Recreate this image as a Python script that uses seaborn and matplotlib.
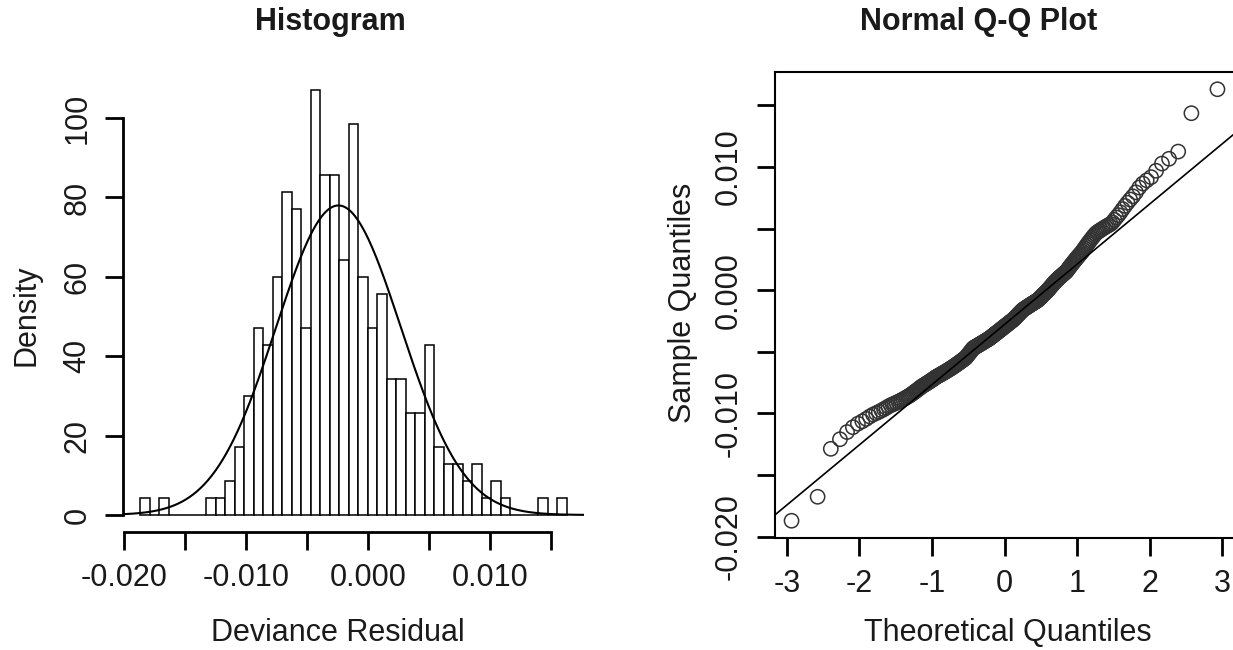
import numpy as np
import pandas as pd
import seaborn as sns
import matplotlib
matplotlib.use("Agg")
import matplotlib.pyplot as plt
from statistics import NormalDist

# ---------------- data ----------------
resid_min = -0.0187          # smallest deviance residual (first break)
resid_max = 0.0163           # largest deviance residual (last break)
# observations per histogram bin (45 equal bins between min and max)
bin_counts = [1, 0, 1, 0, 0, 0, 0, 1, 1, 2, 4, 7, 11, 10, 14, 19, 18, 11, 25, 20,
              20, 15, 23, 14, 11, 13, 8, 8, 6, 6, 10, 4, 3, 3, 2, 3, 1, 2, 1, 0,
              0, 0, 1, 0, 1]
hist_xticks = [-0.020, -0.015, -0.010, -0.005, 0.000, 0.005, 0.010, 0.015]
hist_xticklabels = ["-0.020", "", "-0.010", "", "0.000", "", "0.010", ""]
hist_yticks = [0, 20, 40, 60, 80, 100]
hist_yticklabels = ["0", "20", "40", "60", "80", "100"]
qq_xticks = [-3, -2, -1, 0, 1, 2, 3]
qq_xticklabels = ["-3", "-2", "-1", "0", "1", "2", "3"]
qq_yticks = [-0.020, -0.015, -0.010, -0.005, 0.000, 0.005, 0.010, 0.015]
qq_yticklabels = ["-0.020", "", "-0.010", "", "0.000", "", "0.010", ""]

# ---------------- style ----------------
sns.set_theme(style="white")
plt.rcParams["font.family"] = ["Liberation Sans", "DejaVu Sans"]
TXT = "#1a1a1a"
FS = 22

# residual sample rebuilt from the bin counts
n_bins = len(bin_counts)
edges = np.linspace(resid_min, resid_max, n_bins + 1)
vals = []
for a, b, c in zip(edges[:-1], edges[1:], bin_counts):
    if c:
        vals.extend(a + (np.arange(c) + 0.5) / c * (b - a))
sample = np.sort(np.array(vals))
sample[0] = resid_min
sample[-1] = resid_max
n = len(sample)
df = pd.DataFrame({"resid": sample})

W, H = 1233, 650
fig = plt.figure(figsize=(W / 100, H / 100), dpi=100)
fig.patch.set_facecolor("white")


def box(l, t, r, b):
    return [l / W, 1 - b / H, (r - l) / W, (b - t) / H]


# ---------------- histogram ----------------
ax1 = fig.add_axes(box(123, 72.7, 584, 532))
sns.histplot(data=df, x="resid", bins=edges, stat="density", color="white",
             edgecolor="black", linewidth=1.1, alpha=1, ax=ax1)
span = resid_max - resid_min
xl = (resid_min - 0.04 * span, resid_max + 0.04 * span)
dmax = max(bin_counts) / (n * (edges[1] - edges[0]))
ax1.set_xlim(*xl)
ax1.set_ylim(-0.04 * dmax, 1.04 * dmax)

mu = sample.mean()
sd = sample.std(ddof=1)
xs = np.linspace(xl[0], xl[1], 500)
ys = np.array([NormalDist(mu, sd).pdf(x) for x in xs])
sns.lineplot(x=xs, y=ys, color="black", linewidth=1.5, ax=ax1)

for s in ["top", "right"]:
    ax1.spines[s].set_visible(False)
for s in ["left", "bottom"]:
    ax1.spines[s].set_linewidth(2.0)
    ax1.spines[s].set_color("black")
ax1.spines["left"].set_bounds(0, 100)
ax1.spines["bottom"].set_bounds(-0.020, 0.015)
ax1.set_xticks(hist_xticks)
ax1.set_xticklabels(hist_xticklabels)
ax1.set_yticks(hist_yticks)
ax1.set_yticklabels(hist_yticklabels, rotation=90, va="center")
ax1.tick_params(bottom=True, left=True, direction="out", length=13, width=2,
                labelsize=FS, pad=9, colors="black", labelcolor=TXT)
ax1.set_xlabel("")
ax1.set_ylabel("")
ax1.set_facecolor("white")

# ---------------- normal Q-Q plot ----------------
ax2 = fig.add_axes(box(774.5, 72, 1234.5, 538))
theo = np.array([NormalDist().inv_cdf((i - 0.5) / n) for i in range(1, n + 1)])
sns.scatterplot(x=theo, y=sample, marker="o", s=105, facecolor="none",
                edgecolor="#333333", linewidth=1.1, ax=ax2)
q25, q75 = np.quantile(sample, [0.25, 0.75])
t25, t75 = NormalDist().inv_cdf(0.25), NormalDist().inv_cdf(0.75)
slope = (q75 - q25) / (t75 - t25)
ax2.axline((t25, q25), slope=slope, color="black", linewidth=1.2)
tspan = theo.max() - theo.min()
ax2.set_xlim(theo.min() - 0.04 * tspan, theo.max() + 0.04 * tspan)
ax2.set_ylim(*xl)
for s in ax2.spines.values():
    s.set_visible(True)
    s.set_linewidth(1.5)
    s.set_color("black")
ax2.set_xticks(qq_xticks)
ax2.set_xticklabels(qq_xticklabels)
ax2.set_yticks(qq_yticks)
ax2.set_yticklabels(qq_yticklabels, rotation=90, va="center")
ax2.tick_params(bottom=True, left=True, direction="out", length=13, width=2,
                labelsize=FS, pad=9, colors="black", labelcolor=TXT)
ax2.set_xlabel("")
ax2.set_ylabel("")
ax2.set_facecolor("white")

# ---------------- titles and axis titles ----------------
fig.text(330 / W, 1 - 22 / H, "Histogram", ha="center", va="center",
         fontsize=FS, fontweight="bold", color=TXT)
fig.text(979 / W, 1 - 22 / H, "Normal Q-Q Plot", ha="center", va="center",
         fontsize=FS, fontweight="bold", color=TXT)
fig.text(338 / W, 1 - 633 / H, "Deviance Residual", ha="center", va="center",
         fontsize=FS, color=TXT)
fig.text(1008 / W, 1 - 633 / H, "Theoretical Quantiles", ha="center", va="center",
         fontsize=FS, color=TXT)
fig.text(27 / W, 1 - 315 / H, "Density", ha="center", va="center",
         rotation=90, fontsize=FS, color=TXT)
fig.text(683 / W, 1 - 303 / H, "Sample Quantiles", ha="center", va="center",
         rotation=90, fontsize=FS, color=TXT)

fig.savefig("out.png", dpi=100, facecolor="white")
